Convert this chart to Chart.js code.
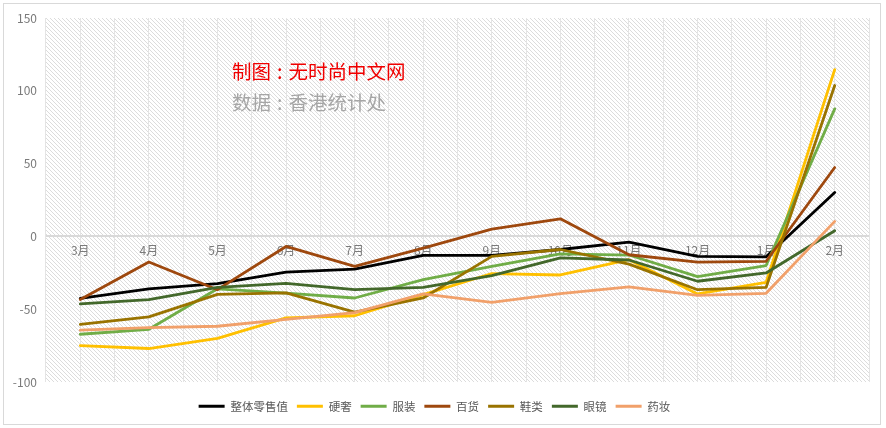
<!DOCTYPE html>
<html><head><meta charset="utf-8">
<script src="https://cdn.jsdelivr.net/npm/chart.js@4.4.1/dist/chart.umd.min.js"></script>
<style>html,body{margin:0;padding:0;background:#fff;}#wrap{position:relative;width:886px;height:428px;}</style>
</head><body><div id="wrap"><canvas id="c" width="886" height="428"></canvas></div>
<script>
const categories = ['3月','4月','5月','6月','7月','8月','9月','10月','11月','12月','1月','2月'];
const seriesNames = ['整体零售值','硬奢','服装','百货','鞋类','眼镜','药妆'];
const totalRetail = [-42.5,-36,-32.5,-24.5,-22.5,-13,-13,-9,-4,-13.7,-14,30.2];
const hardLuxury = [-75,-77,-70,-56,-54.5,-40,-25.5,-26.5,-16,-39.5,-31.5,114.5];
const apparel = [-67.2,-63.8,-36,-39,-42.3,-29.7,-20.6,-12,-12.8,-27.6,-20,87.6];
const deptStores = [-43.4,-17.6,-36.6,-6.9,-20.6,-8,5,12.1,-12.6,-17.6,-17.1,47.3];
const footwear = [-60.4,-55.3,-39.8,-38.8,-52,-42.3,-13.7,-9,-19,-36.6,-35,103.6];
const eyewear = [-46.3,-43.4,-35,-32.3,-36.6,-35,-27,-14.8,-16.2,-30.8,-25.1,3.9];
const cosmetics = [-64.4,-62.6,-61.7,-57,-52.3,-39.5,-45.3,-39.3,-34.7,-40.5,-39.1,10.3];
const yTickValues = [-100,-50,0,50,100,150];
const titleLine1 = ['制图','：','无时尚中文网'];
const titleLine2 = ['数据','：','香港统计处'];

const seriesValues = [totalRetail, hardLuxury, apparel, deptStores, footwear, eyewear, cosmetics];
const colors = ['#000000','#FFC000','#70AD47','#9E480E','#997300','#43682B','#F1A06A'];
const FONT = '"Noto Sans CJK SC", "Liberation Sans", sans-serif';

function makeHatch(){
  const c=document.createElement('canvas');c.width=4;c.height=4;
  const g=c.getContext('2d');
  g.fillStyle='#ffffff';g.fillRect(0,0,4,4);
  g.strokeStyle='#dcdcdc';g.lineWidth=1;
  g.beginPath();
  g.moveTo(-1,-1);g.lineTo(5,5);
  g.moveTo(3,-1);g.lineTo(5,1);
  g.moveTo(-1,3);g.lineTo(1,5);
  g.stroke();
  return c;
}

function drawTitle(ctx, parts, x, y, size){
  ctx.textAlign='left';
  ctx.fillText(parts[0], x, y);
  const w0 = ctx.measureText(parts[0]).width;
  ctx.textAlign='center';
  ctx.fillText(':', x + w0 + size*0.45, y);
  ctx.textAlign='left';
  ctx.fillText(parts[2], x + w0 + size*0.9, y);
}

const bgPlugin = {
  id:'bg',
  beforeDraw(chart){
    const ctx=chart.ctx, a=chart.chartArea;
    ctx.save();
    ctx.fillStyle='#ffffff';ctx.fillRect(0,0,chart.width,chart.height);
    ctx.fillStyle=ctx.createPattern(makeHatch(),'repeat');
    ctx.fillRect(a.left,a.top,a.right-a.left,a.bottom-a.top);
    ctx.strokeStyle='#d9d9d9';ctx.lineWidth=1;
    ctx.strokeRect(3.5,3.5,877,421);
    ctx.restore();
  },
  beforeDatasetsDraw(chart){
    const ctx=chart.ctx;
    ctx.save();
    ctx.textBaseline='middle';
    ctx.font='19.5px '+FONT;
    ctx.fillStyle='#F00000';
    drawTitle(ctx,titleLine1,232,72,19.5);
    ctx.fillStyle='#A6A6A6';
    drawTitle(ctx,titleLine2,232,103,19.5);
    ctx.restore();
  }
};

new Chart(document.getElementById('c'),{
  type:'line',
  data:{
    labels:categories,
    datasets:seriesNames.map((n,i)=>({
      label:n,data:seriesValues[i],borderColor:colors[i],backgroundColor:colors[i],
      borderWidth:2.8,pointRadius:0,pointHoverRadius:0,tension:0,fill:false,
      borderJoinStyle:'round',borderCapStyle:'round',order:10-i
    }))
  },
  options:{
    responsive:false,devicePixelRatio:1,animation:false,
    layout:{padding:{left:0,right:17,top:18,bottom:6}},
    plugins:{
      tooltip:{enabled:false},
      legend:{
        position:'bottom',
        labels:{
          boxWidth:26,boxHeight:3,padding:9,color:'#595959',
          font:{size:11.5,family:FONT},
          sort:(a,b)=>a.datasetIndex-b.datasetIndex,
          generateLabels(chart){
            return Chart.defaults.plugins.legend.labels.generateLabels(chart).map(l=>Object.assign(l,{lineWidth:0,fillStyle:colors[l.datasetIndex]}));
          }
        }
      }
    },
    scales:{
      x:{
        type:'category',axis:'x',position:{y:0},offset:true,
        grid:{offset:false,drawTicks:false,color:'#e4e4e4',lineWidth:1},
        border:{display:false},
        ticks:{color:'#7a7a7a',font:{size:12,family:FONT},padding:7,maxRotation:0,autoSkip:false}
      },
      x2:{
        type:'category',labels:categories,position:'bottom',offset:true,
        grid:{offset:true,drawTicks:true,tickLength:9.5,tickColor:'rgba(0,0,0,0)',color:'#e4e4e4',lineWidth:1},
        border:{display:false},
        ticks:{display:false}
      },
      y:{
        type:'linear',min:-100,max:150,
        afterFit(s){s.width=46;},
        afterBuildTicks(s){s.ticks=yTickValues.map(v=>({value:v}));},
        grid:{drawTicks:false,color:c=>(c.tick&&c.tick.value===0)?'#d9d9d9':'rgba(0,0,0,0)',lineWidth:c=>(c.tick&&c.tick.value===0)?2:1},
        border:{display:false},
        ticks:{color:'#7a7a7a',font:{size:12,family:FONT},padding:9}
      }
    }
  },
  plugins:[bgPlugin]
});
</script></body></html>
